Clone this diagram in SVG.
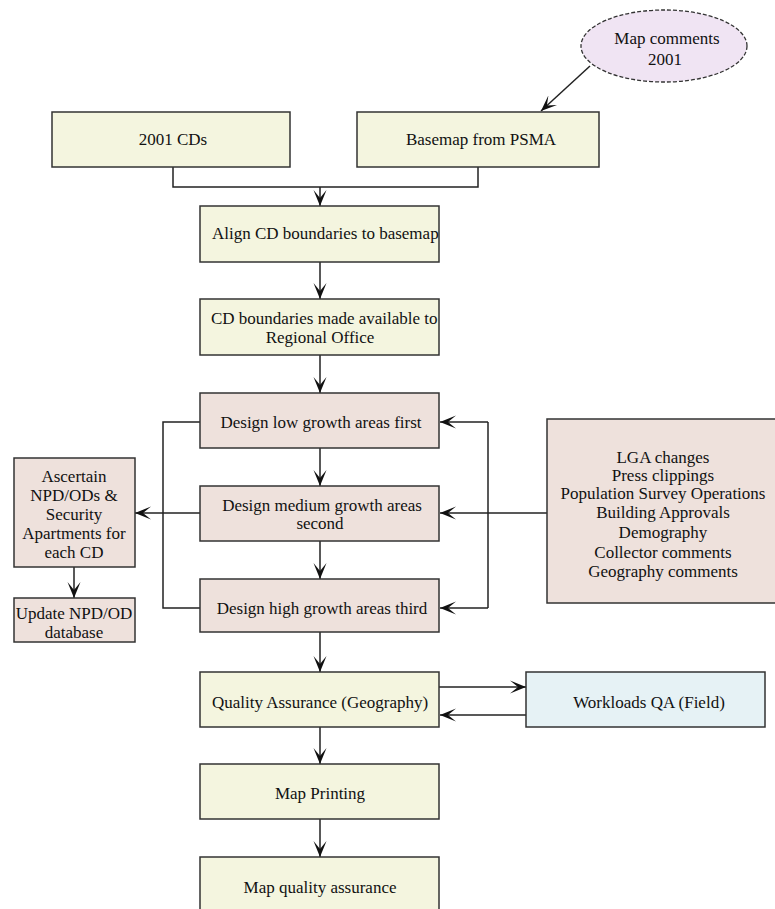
<svg xmlns="http://www.w3.org/2000/svg" width="775" height="909" viewBox="0 0 775 909">
<style>
  .y { fill: #f4f5df; stroke: #333; stroke-width: 1.5; }
  .p { fill: #eee1dc; stroke: #333; stroke-width: 1.5; }
  .b { fill: #e6f2f5; stroke: #333; stroke-width: 1.5; }
  .e { fill: #f0e4f3; stroke: #333; stroke-width: 1.3; stroke-dasharray: 4 2; }
  text { font-family: "Liberation Serif", "Times New Roman", serif; font-size: 17px; fill: #111; text-anchor: middle; }
  .l { text-anchor: start; }
  .c line, .c polyline { stroke: #222; stroke-width: 1.5; fill: none; }
  .a { marker-end: url(#ah); }
</style>
<defs>
  <marker id="ah" markerUnits="userSpaceOnUse" markerWidth="17" markerHeight="14" refX="16" refY="7" orient="auto">
    <path d="M0,0.5 L16,7 L0,13.5 L8,7 Z" fill="#111"/>
  </marker>
  <clipPath id="clipAlign"><rect x="200" y="206" width="239" height="56"/></clipPath>
  <clipPath id="clipCD"><rect x="200" y="299" width="239" height="56"/></clipPath>
</defs>
<rect width="775" height="909" fill="#ffffff"/>

<g class="c" id="connectors">
  <line class="a" x1="590" y1="66" x2="541" y2="111"/>
  <polyline points="173,167 173,187 478,187 478,167"/>
  <line class="a" x1="320" y1="187" x2="320" y2="206"/>
  <line class="a" x1="320" y1="262" x2="320" y2="299"/>
  <line class="a" x1="320" y1="355" x2="320" y2="393"/>
  <line class="a" x1="320" y1="448" x2="320" y2="486"/>
  <line class="a" x1="320" y1="541" x2="320" y2="579"/>
  <line class="a" x1="320" y1="632" x2="320" y2="672"/>
  <line class="a" x1="320" y1="727" x2="320" y2="764"/>
  <line class="a" x1="320" y1="819" x2="320" y2="857"/>
  <polyline points="200,422 163,422 163,608 200,608"/>
  <line class="a" x1="200" y1="513" x2="135" y2="513"/>
  <line x1="488" y1="422" x2="488" y2="608"/>
  <line class="a" x1="488" y1="422" x2="440" y2="422"/>
  <line class="a" x1="547" y1="513" x2="440" y2="513"/>
  <line class="a" x1="488" y1="608" x2="440" y2="608"/>
  <line class="a" x1="74" y1="567" x2="74" y2="598"/>
  <line class="a" x1="439" y1="687" x2="526" y2="687"/>
  <line class="a" x1="526" y1="715" x2="440" y2="715"/>
</g>

<g id="map-comments">
  <ellipse class="e" cx="664" cy="46" rx="83" ry="36"/>
  <text x="667" y="44">Map comments</text>
  <text x="665" y="65">2001</text>
</g>

<g id="cds-2001">
  <rect class="y" x="52" y="112" width="238" height="55"/>
  <text x="173" y="145">2001 CDs</text>
</g>

<g id="basemap">
  <rect class="y" x="357" y="112" width="242" height="55"/>
  <text x="481" y="145">Basemap from PSMA</text>
</g>

<g id="align">
  <rect class="y" x="200" y="206" width="239" height="56"/>
  <text class="l" x="212" y="239" clip-path="url(#clipAlign)">Align CD boundaries to basemap</text>
</g>

<g id="cd-available">
  <rect class="y" x="200" y="299" width="239" height="56"/>
  <text class="l" x="211" y="324" clip-path="url(#clipCD)">CD boundaries made available to</text>
  <text x="320" y="343">Regional Office</text>
</g>

<g id="design-low">
  <rect class="p" x="200" y="393" width="239" height="55"/>
  <text x="321" y="428">Design low growth areas first</text>
</g>

<g id="design-medium">
  <rect class="p" x="200" y="486" width="239" height="55"/>
  <text x="322" y="511">Design medium growth areas</text>
  <text x="320" y="529">second</text>
</g>

<g id="design-high">
  <rect class="p" x="200" y="579" width="239" height="53"/>
  <text x="322" y="614">Design high growth areas third</text>
</g>

<g id="ascertain">
  <rect class="p" x="14" y="458" width="121" height="109"/>
  <text x="74" y="482">Ascertain</text>
  <text x="74" y="501">NPD/ODs &amp;</text>
  <text x="74" y="520">Security</text>
  <text x="74" y="539">Apartments for</text>
  <text x="74" y="558">each CD</text>
</g>

<g id="update-npd">
  <rect class="p" x="14" y="598" width="121" height="44"/>
  <text x="74" y="619">Update NPD/OD</text>
  <text x="74" y="638">database</text>
</g>

<g id="sources">
  <rect class="p" x="547" y="419" width="232" height="184"/>
  <text x="663" y="463">LGA changes</text>
  <text x="663" y="481">Press clippings</text>
  <text x="663" y="499">Population Survey Operations</text>
  <text x="663" y="518">Building Approvals</text>
  <text x="663" y="538">Demography</text>
  <text x="663" y="558">Collector comments</text>
  <text x="663" y="577">Geography comments</text>
</g>

<g id="qa-geography">
  <rect class="y" x="200" y="672" width="239" height="55"/>
  <text x="320" y="708">Quality Assurance (Geography)</text>
</g>

<g id="workloads-qa">
  <rect class="b" x="526" y="672" width="239" height="55"/>
  <text x="649" y="708">Workloads QA (Field)</text>
</g>

<g id="map-printing">
  <rect class="y" x="200" y="764" width="239" height="55"/>
  <text x="320" y="799">Map Printing</text>
</g>

<g id="map-qa">
  <rect class="y" x="200" y="857" width="239" height="60"/>
  <text x="320" y="893">Map quality assurance</text>
</g>
</svg>
